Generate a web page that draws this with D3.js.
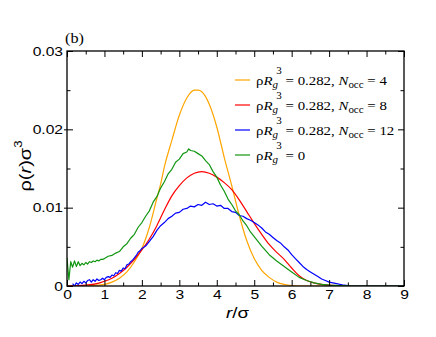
<html lang="en">
  <head>
    <meta charset="UTF-8" />
    <title>rho(r) profiles</title>
    <script src="https://d3js.org/d3.v7.min.js"></script>
  </head>
  <style>
    body {
      margin: 0px;
      overflow: hidden;
      background: #fff;
    }
    .tick text {
      font-family: "Liberation Sans", Arial, sans-serif;
      font-size: 12.5px;
      fill: #000;
    }
    .legend text {
      font-family: "Liberation Serif", "Times New Roman", serif;
      font-size: 13.5px;
    }
  </style>
  <body>
    <svg width="436" height="337"></svg>
  </body>
  <footer>
    <script>
      // r/sigma ticks and rho(r) sigma^3 ticks
      var xTicks = [0, 1, 2, 3, 4, 5, 6, 7, 8, 9];
      var yTicks = [0, 0.01, 0.02, 0.03];

      var legendLabels = [
        { occ: "4" },
        { occ: "8" },
        { occ: "12" },
        { occ: null }
      ];
      var colors = ["#ffa500", "#ff0000", "#0000ff", "#119611"];

      // N_occ = 4
      var orangeR = [0, 0.5, 0.8, 1.0, 1.2, 1.4, 1.6, 1.8, 2.0, 2.2, 2.4, 2.5, 2.6, 2.8, 3.0, 3.2, 3.4, 3.5, 3.6, 3.8, 4.0, 4.2, 4.4, 4.6, 4.8, 5.0, 5.2, 5.4, 5.6, 5.8, 6.0, 6.2, 9];
      var orangeY = [0, 0, 0.0001, 0.0002, 0.0005, 0.001, 0.0018, 0.0031, 0.0048, 0.0075, 0.0112, 0.013, 0.0152, 0.0186, 0.0218, 0.024, 0.025, 0.025, 0.0248, 0.0232, 0.0203, 0.0164, 0.0128, 0.009, 0.0058, 0.0035, 0.002, 0.0011, 0.0005, 0.0002, 0.00005, 0, 0];

      // N_occ = 8
      var redR = [0, 0.5, 0.8, 1.0, 1.2, 1.4, 1.6, 1.8, 2.0, 2.2, 2.4, 2.6, 2.8, 3.0, 3.2, 3.4, 3.6, 3.8, 4.0, 4.2, 4.4, 4.6, 4.8, 5.0, 5.2, 5.4, 5.6, 5.8, 6.0, 6.2, 6.4, 6.6, 6.8, 7.0, 7.3, 7.6, 9];
      var redY = [0, 0.0001, 0.0003, 0.0006, 0.001, 0.0016, 0.0024, 0.0034, 0.0046, 0.006, 0.0077, 0.0097, 0.0115, 0.0128, 0.0138, 0.0144, 0.0146, 0.0144, 0.0139, 0.0132, 0.0123, 0.011, 0.0095, 0.008, 0.0066, 0.0053, 0.0043, 0.0034, 0.0023, 0.0013, 0.0007, 0.0004, 0.0002, 0.0001, 0.00005, 0, 0];

      // N_occ = 12
      var blueR = [0.15, 0.2, 0.25, 0.3, 0.35, 0.4, 0.45, 0.5, 0.55, 0.6, 0.65, 0.7, 0.75, 0.8, 0.85, 0.9, 0.95, 1.0, 1.05, 1.1, 1.15, 1.2, 1.25, 1.3, 1.35, 1.4, 1.45, 1.5, 1.55, 1.6, 1.65, 1.7, 1.75, 1.8, 1.85, 1.9, 1.95, 2.0, 2.1, 2.2, 2.3, 2.4, 2.5, 2.6, 2.7, 2.8, 2.9, 3.0, 3.1, 3.2, 3.3, 3.4, 3.5, 3.6, 3.7, 3.8, 3.9, 4.0, 4.1, 4.2, 4.3, 4.4, 4.5, 4.6, 4.7, 4.8, 4.9, 5.0, 5.1, 5.2, 5.3, 5.4, 5.5, 5.6, 5.7, 5.8, 5.9, 6.0, 6.1, 6.2, 6.3, 6.4, 6.5, 6.6, 6.7, 6.8, 6.9, 7.0, 7.1, 7.2, 7.4, 7.6, 9];
      var blueY = [0.0003, 0.0, 0.0004, 0.0002, 0.0005, 0.0003, 0.0006, 0.0004, 0.0007, 0.0008, 0.0005, 0.0008, 0.0006, 0.0009, 0.0007, 0.0008, 0.001, 0.0008, 0.0011, 0.0012, 0.0011, 0.0014, 0.0013, 0.0017, 0.0016, 0.002, 0.0019, 0.0023, 0.0022, 0.0027, 0.0028, 0.0031, 0.0033, 0.0036, 0.0039, 0.0043, 0.0045, 0.0048, 0.0051, 0.0057, 0.0063, 0.0071, 0.0077, 0.0081, 0.0086, 0.0089, 0.0093, 0.0094, 0.0098, 0.0099, 0.0102, 0.0101, 0.0104, 0.0103, 0.0107, 0.0104, 0.0105, 0.0102, 0.0103, 0.0099, 0.0099, 0.0095, 0.0094, 0.009, 0.0089, 0.0086, 0.0084, 0.0081, 0.0078, 0.0074, 0.0069, 0.0066, 0.0062, 0.0058, 0.0055, 0.005, 0.0046, 0.004, 0.0035, 0.003, 0.0025, 0.0021, 0.0018, 0.0015, 0.0012, 0.0009, 0.0007, 0.0005, 0.0004, 0.0003, 0.0001, 0, 0];

      // rho Rg^3 = 0
      var greenR = [0.0, 0.05, 0.1, 0.15, 0.2, 0.25, 0.3, 0.35, 0.4, 0.45, 0.5, 0.55, 0.6, 0.65, 0.7, 0.75, 0.8, 0.85, 0.9, 0.95, 1.0, 1.1, 1.2, 1.3, 1.4, 1.5, 1.6, 1.7, 1.8, 1.9, 2.0, 2.1, 2.2, 2.3, 2.4, 2.5, 2.6, 2.7, 2.8, 2.9, 3.0, 3.1, 3.2, 3.25, 3.3, 3.4, 3.5, 3.6, 3.7, 3.8, 3.9, 4.0, 4.1, 4.2, 4.3, 4.4, 4.5, 4.6, 4.7, 4.8, 4.9, 5.0, 5.2, 5.4, 5.6, 5.8, 6.0, 6.2, 6.4, 6.6, 6.8, 7.0, 7.3, 7.6, 9];
      var greenY = [0.0036, 0.0008, 0.0031, 0.0024, 0.0032, 0.0025, 0.0031, 0.0026, 0.0029, 0.0027, 0.003, 0.0028, 0.0031, 0.003, 0.0032, 0.0031, 0.0033, 0.0032, 0.0034, 0.0034, 0.0035, 0.0038, 0.0039, 0.0042, 0.0044, 0.005, 0.0054, 0.0061, 0.0066, 0.0075, 0.0081, 0.0089, 0.0096, 0.0107, 0.0114, 0.0125, 0.0133, 0.0143, 0.0149, 0.0158, 0.0162, 0.0169, 0.0171, 0.0175, 0.0173, 0.0172, 0.0169, 0.0166, 0.016, 0.0155, 0.0146, 0.0139, 0.0129, 0.0121, 0.0111, 0.0104, 0.0096, 0.0091, 0.0083, 0.0077, 0.0069, 0.0063, 0.0051, 0.004, 0.0032, 0.0025, 0.0018, 0.0011, 0.0007, 0.0004, 0.0002, 0.0001, 0.00005, 0, 0];

      var seriesR = [orangeR, redR, blueR, greenR];
      var seriesY = [orangeY, redY, blueY, greenY];

      var svg = d3.select("svg");
      var margin = { left: 67, top: 51, right: 32, bottom: 51 };
      var width = 436, height = 337;
      var plotLeft = margin.left, plotRight = width - margin.right;
      var plotTop = margin.top, plotBottom = height - margin.bottom;

      var xScale = d3.scaleLinear().domain([0, 9]).range([plotLeft, plotRight]);
      var yScale = d3.scaleLinear().domain([0, 0.03]).range([plotBottom, plotTop]);

      var xMinor = d3.range(0.5, 9, 1);
      var yMinor = [0.005, 0.015, 0.025];

      svg.append("clipPath").attr("id", "plot")
        .append("rect")
        .attr("x", plotLeft).attr("y", plotTop)
        .attr("width", plotRight - plotLeft).attr("height", plotBottom - plotTop);

      // curves
      var line = d3.line()
        .x(function (d) { return xScale(d[0]); })
        .y(function (d) { return yScale(d[1]); });

      seriesR.forEach(function (rs, i) {
        var pts = rs.map(function (r, j) { return [r, seriesY[i][j]]; });
        var smooth = i < 2;
        svg.append("path")
          .datum(pts)
          .attr("clip-path", "url(#plot)")
          .attr("fill", "none")
          .attr("stroke", colors[i])
          .attr("stroke-width", 1.2)
          .attr("stroke-linejoin", "round")
          .attr("d", smooth ? line.curve(d3.curveMonotoneX)(pts) : line.curve(d3.curveLinear)(pts));
      });

      function stripAxis(g) {
        g.select(".domain").remove();
        g.selectAll("line").attr("stroke", "#000").attr("stroke-width", 1);
      }

      // bottom
      svg.append("g")
        .attr("transform", `translate(0, ${plotBottom})`)
        .call(d3.axisBottom(xScale).tickValues(xTicks).tickSizeInner(-6).tickSizeOuter(0).tickPadding(4).tickFormat(d3.format("d")))
        .call(stripAxis)
        .call(function (g) {
          g.selectAll("text").attr("transform", "scale(1.25,1)");
        });
      svg.append("g")
        .attr("transform", `translate(0, ${plotBottom})`)
        .call(d3.axisBottom(xScale).tickValues(xMinor).tickSizeInner(-3.5).tickSizeOuter(0).tickFormat(""))
        .call(stripAxis);

      // top
      svg.append("g")
        .attr("transform", `translate(0, ${plotTop})`)
        .call(d3.axisTop(xScale).tickValues(xTicks).tickSizeInner(-6).tickSizeOuter(0).tickFormat(""))
        .call(stripAxis);
      svg.append("g")
        .attr("transform", `translate(0, ${plotTop})`)
        .call(d3.axisTop(xScale).tickValues(xMinor).tickSizeInner(-3.5).tickSizeOuter(0).tickFormat(""))
        .call(stripAxis);

      // left
      svg.append("g")
        .attr("transform", `translate(${plotLeft}, 0)`)
        .call(d3.axisLeft(yScale).tickValues(yTicks).tickSizeInner(-6).tickSizeOuter(0)
          .tickFormat(function (d) { return d === 0 ? "0" : d.toFixed(2); }))
        .call(stripAxis)
        .call(function (g) {
          g.selectAll("text").attr("x", -3.2).attr("transform", "scale(1.25,1)");
        });
      svg.append("g")
        .attr("transform", `translate(${plotLeft}, 0)`)
        .call(d3.axisLeft(yScale).tickValues(yTicks.slice(1, 3)).tickSizeInner(3).tickSizeOuter(0).tickFormat(""))
        .call(stripAxis);
      svg.append("g")
        .attr("transform", `translate(${plotLeft}, 0)`)
        .call(d3.axisLeft(yScale).tickValues(yMinor).tickSizeInner(-3.5).tickSizeOuter(0).tickFormat(""))
        .call(stripAxis);

      // right
      svg.append("g")
        .attr("transform", `translate(${plotRight}, 0)`)
        .call(d3.axisRight(yScale).tickValues(yTicks).tickSizeInner(-6).tickSizeOuter(0).tickFormat(""))
        .call(stripAxis);
      svg.append("g")
        .attr("transform", `translate(${plotRight}, 0)`)
        .call(d3.axisRight(yScale).tickValues(yMinor).tickSizeInner(-3.5).tickSizeOuter(0).tickFormat(""))
        .call(stripAxis);

      // frame
      svg.append("rect")
        .attr("x", plotLeft).attr("y", plotTop)
        .attr("width", plotRight - plotLeft).attr("height", plotBottom - plotTop)
        .attr("fill", "none").attr("stroke", "#000").attr("stroke-width", 1.3);

      // axis titles
      svg.append("text")
        .attr("transform", `translate(${(plotLeft + plotRight) / 2 + 2}, 318) scale(1.25,1)`)
        .attr("text-anchor", "middle")
        .style("font-family", "Liberation Sans, Arial, sans-serif")
        .style("font-size", "15px")
        .html('<tspan font-style="italic">r</tspan>/σ');

      svg.append("text")
        .attr("transform", "translate(31, 166) rotate(-90) scale(1.25,1)")
        .attr("text-anchor", "middle")
        .style("font-family", "Liberation Sans, Arial, sans-serif")
        .style("font-size", "16px")
        .html('ρ(<tspan font-style="italic">r</tspan>)σ<tspan font-size="10.5px" dy="-9">3</tspan>');

      svg.append("text")
        .attr("transform", "translate(65, 43) scale(1.12,1)")
        .style("font-family", "Liberation Serif, Times New Roman, serif")
        .style("font-size", "14.5px")
        .text("(b)");

      // legend
      var legend = svg.append("g").attr("class", "legend");
      legendLabels.forEach(function (d, i) {
        var y = 80 + i * 25;
        legend.append("line")
          .attr("x1", 235).attr("x2", 250)
          .attr("y1", y).attr("y2", y)
          .attr("stroke", colors[i]).attr("stroke-width", 1.2);
        var t = legend.append("text")
          .attr("transform", `translate(256, ${y + 4.5}) scale(1.1,1)`);
        var html = 'ρ<tspan font-style="italic">R</tspan>' +
          '<tspan font-style="italic" font-size="10px" dy="3.5">g</tspan>' +
          '<tspan font-size="10px" dx="-1.5" dy="-14">3</tspan>';
        if (d.occ) {
          html += '<tspan dy="10.5"> = 0.282, </tspan><tspan font-style="italic">N</tspan>' +
            '<tspan font-size="10px" dy="3.5">occ</tspan><tspan dy="-3.5"> = ' + d.occ + '</tspan>';
        } else {
          html += '<tspan dy="10.5"> = 0</tspan>';
        }
        t.html(html);
      });
    </script>
  </footer>
</html>
